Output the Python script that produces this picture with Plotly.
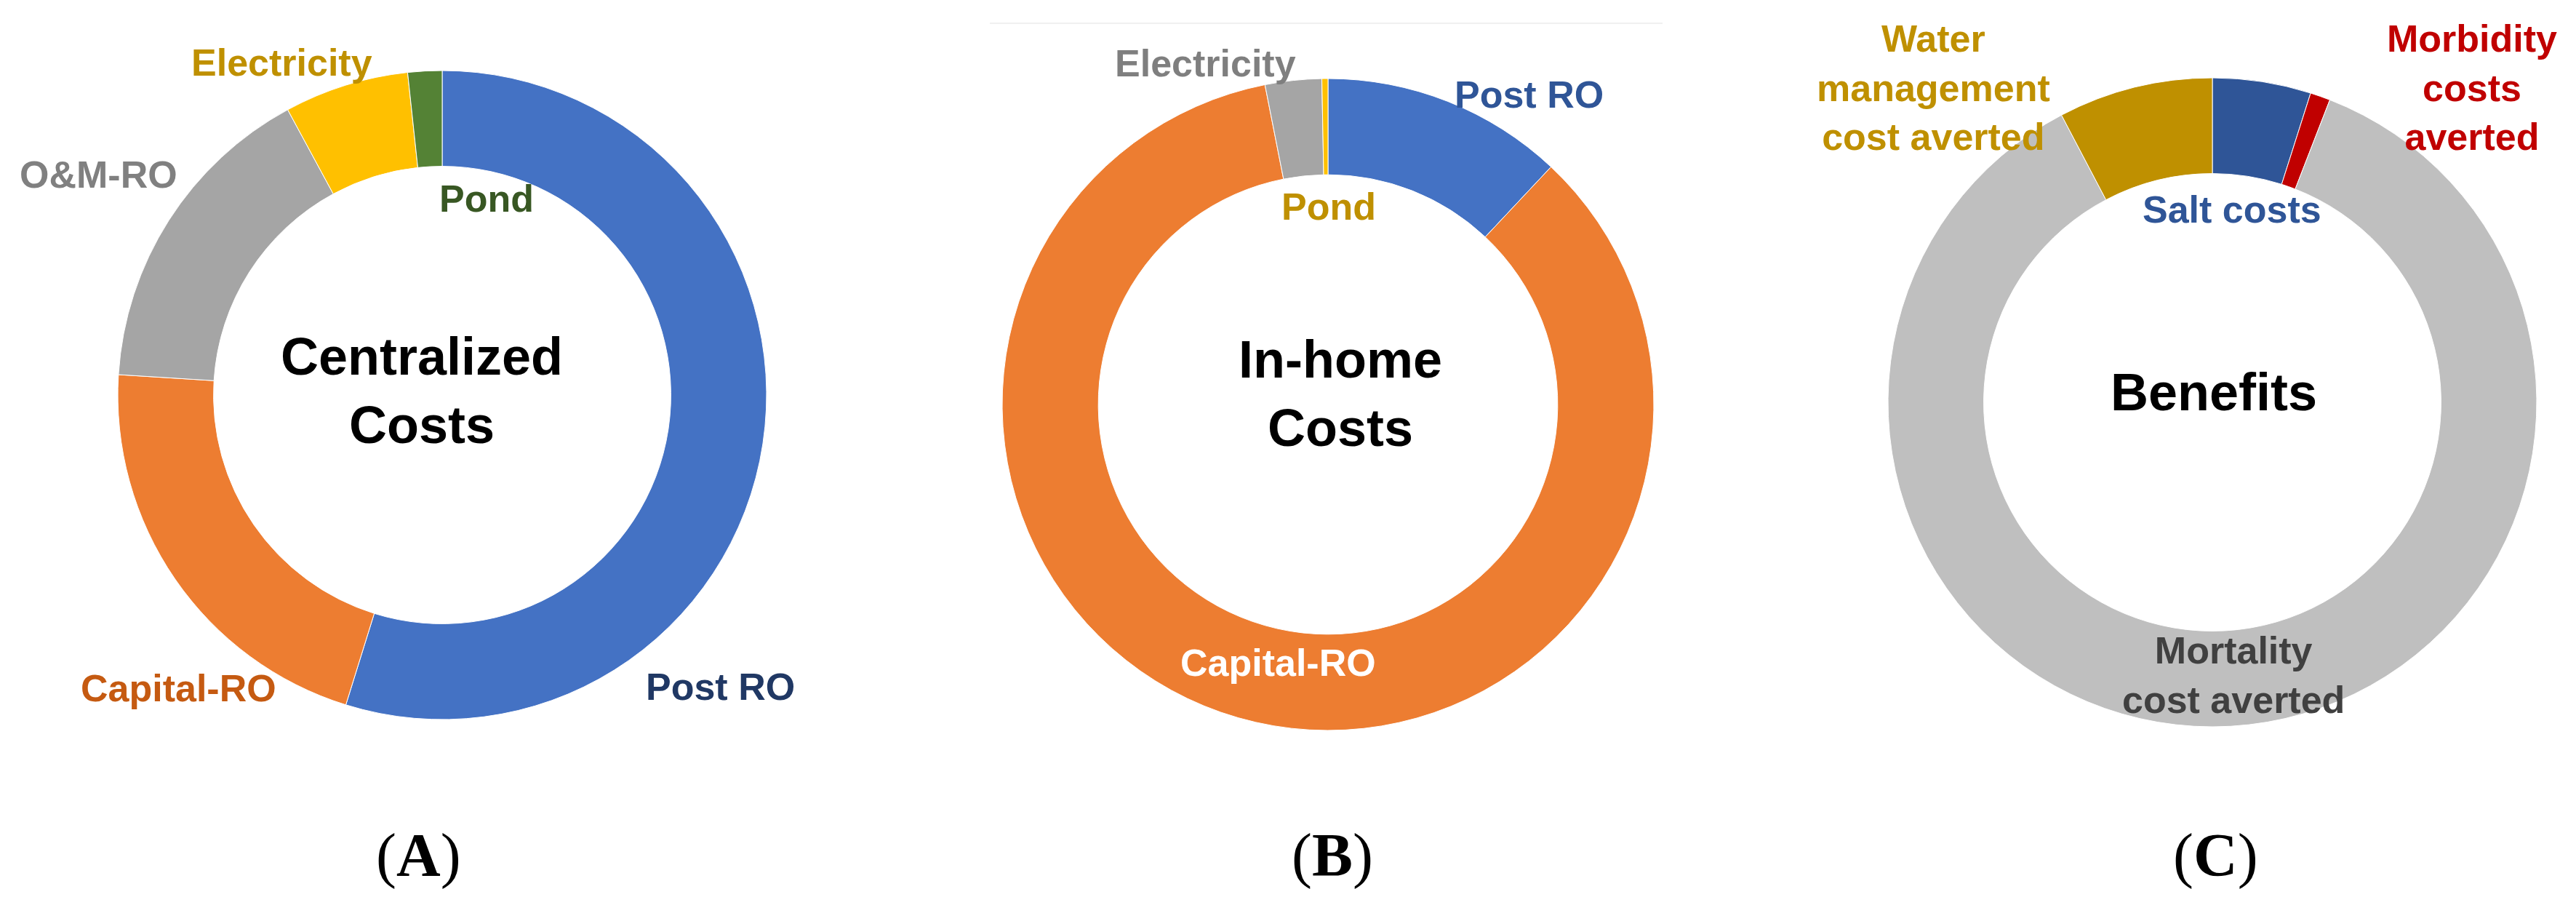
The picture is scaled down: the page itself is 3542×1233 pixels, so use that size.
import plotly.graph_objects as go

W, H = 3542, 1233

# (A) centralized costs - share of total (%)
cent_labels = ["Post RO", "Capital-RO", "O&M-RO", "Electricity", "Pond"]
cent_values = [54.8, 21.2, 16.1, 6.2, 1.7]

# (B) in-home costs
home_labels = ["Post RO", "Capital-RO", "Electricity", "Pond"]
home_values = [12.0, 84.9, 2.8, 0.3]

# (C) benefits
ben_labels = ["Salt costs", "Morbidity<br>costs<br>averted",
              "Mortality<br>cost averted", "Water<br>management<br>cost averted"]
ben_values = [4.9, 1.0, 86.4, 7.7]

centre_titles = ["Centralized<br>Costs", "In-home<br>Costs", "Benefits"]
panel_tags = ["A", "B", "C"]


def px(x, y):
    # pixel position -> paper coords
    return x / W, 1 - y / H


def domain(cx, cy, r):
    return dict(x=[(cx - r) / W, (cx + r) / W],
                y=[(H - cy - r) / H, (H - cy + r) / H])


charts = [
    dict(labels=cent_labels, values=cent_values,
         colors=["#4472C4", "#ED7D31", "#A5A5A5", "#FFC000", "#548235"],
         centre=(600, 535), r=446,
         text_pos=[(982, 936), (237, 938), (128, 232), (379, 78), (661, 265)],
         text_col=["#203864", "#C55A11", "#808080", "#BF9000", "#385723"],
         title_pos=(572, 529), tag_x=567),
    dict(labels=home_labels, values=home_values,
         colors=["#4472C4", "#ED7D31", "#A5A5A5", "#FFC000"],
         centre=(1818, 548), r=448,
         text_pos=[(2094, 122), (1749, 903), (1649, 79), (1819, 276)],
         text_col=["#2F5597", "#FFFFFF", "#7F7F7F", "#BF9000"],
         title_pos=(1835, 533), tag_x=1824),
    dict(labels=ben_labels, values=ben_values,
         colors=["#2F5597", "#C00000", "#BFBFBF", "#BF9000"],
         centre=(3034, 545), r=446,
         text_pos=[(3061, 280), (3391, 113), (3063, 920), (2650, 113)],
         text_col=["#2F5597", "#C00000", "#404040", "#BF9000"],
         title_pos=(3036, 531), tag_x=3038),
]

fig = go.Figure()
annotations = []

for i, c in enumerate(charts):
    fig.add_trace(go.Pie(
        labels=c["labels"],
        values=c["values"],
        hole=0.705,
        sort=False,
        direction="clockwise",
        rotation=0,
        textinfo="none",
        marker=dict(colors=c["colors"], line=dict(color="white", width=1)),
        domain=domain(c["centre"][0], c["centre"][1], c["r"]),
        showlegend=False,
    ))

    # slice labels
    for lab, (x, y), col in zip(c["labels"], c["text_pos"], c["text_col"]):
        ax, ay = px(x, y)
        annotations.append(dict(
            x=ax, y=ay, xref="paper", yref="paper", text=lab, showarrow=False,
            xanchor="center", yanchor="middle",
            font=dict(family="Liberation Sans", size=52, color=col, weight="bold"),
        ))

    # title in the hole
    tx, ty = px(*c["title_pos"])
    annotations.append(dict(
        x=tx, y=ty, xref="paper", yref="paper", text=centre_titles[i],
        showarrow=False, xanchor="center", yanchor="middle",
        font=dict(family="Liberation Sans", size=72, color="black", weight="bold"),
    ))

    # panel tag (A), (B), (C)
    gx, gy = px(c["tag_x"], 1168)
    annotations.append(dict(
        x=gx, y=gy, xref="paper", yref="paper",
        text="(<b>" + panel_tags[i] + "</b>)", showarrow=False,
        xanchor="center", yanchor="middle",
        font=dict(family="Liberation Serif", size=84, color="black"),
    ))

fig.update_layout(
    width=W, height=H,
    margin=dict(l=0, r=0, t=0, b=0),
    paper_bgcolor="white",
    plot_bgcolor="white",
    annotations=annotations,
    # faint rule above panel B
    shapes=[dict(type="line", xref="paper", yref="paper",
                 x0=1353 / W, x1=2278 / W, y0=1 - 24 / H, y1=1 - 24 / H,
                 line=dict(color="#F0F0F0", width=2))],
)

fig.write_html("out.html")
